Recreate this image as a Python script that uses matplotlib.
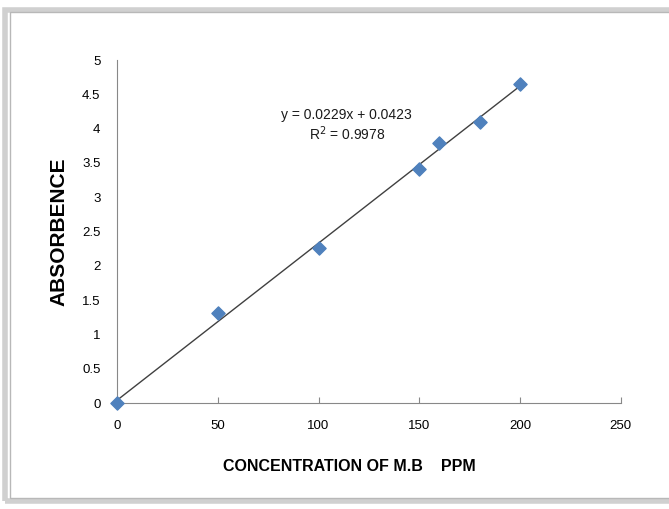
import numpy as np
import matplotlib.pyplot as plt
from matplotlib.patches import Rectangle

conc = [0, 50, 100, 150, 160, 180, 200]
absorb = [0.0, 1.31, 2.26, 3.41, 3.79, 4.10, 4.65]
slope = 0.0229
intercept = 0.0423

plt.rcParams['font.family'] = ['Liberation Sans', 'DejaVu Sans']

fig = plt.figure(figsize=(6.69, 5.09), dpi=100)

# chart frame with a soft shadow
fig.patches.append(Rectangle((0.008, 0.015), 1.0, 0.965, transform=fig.transFigure,
                             facecolor='none', edgecolor='#d0d0d0', linewidth=4, zorder=-2))
fig.patches.append(Rectangle((0.015, 0.022), 1.0, 0.955, transform=fig.transFigure,
                             facecolor='white', edgecolor='#b8b8b8', linewidth=1, zorder=-1))

ax = fig.add_axes([0.175, 0.208, 0.753, 0.674])
ax.set_facecolor('none')

xs = np.array([0, 200])
ax.plot(xs, slope * xs + intercept, color='#404040', linewidth=1.0, zorder=2)
ax.scatter(conc, absorb, marker='D', s=45, color='#4f81bd', zorder=3, clip_on=False)

# trendline label
ax.text(114, 4.2, 'y = 0.0229x + 0.0423', ha='center', va='center',
        fontsize=10, color='#1a1a1a')
ax.text(114, 3.92, 'R$^2$ = 0.9978', ha='center', va='center',
        fontsize=10, color='#1a1a1a')

ax.set_xlim(0, 250)
ax.set_ylim(0, 5)
ax.set_xticks([0, 50, 100, 150, 200, 250])
ax.set_yticks(np.arange(0, 5.01, 0.5))
ax.set_yticklabels(['0', '0.5', '1', '1.5', '2', '2.5', '3', '3.5', '4', '4.5', '5'])

for s in ['top', 'right']:
    ax.spines[s].set_visible(False)
ax.spines['left'].set_color('#888888')
ax.spines['bottom'].set_color('#888888')
ax.tick_params(axis='x', direction='in', length=4, color='#888888', labelsize=9.5, pad=12)
ax.tick_params(axis='y', length=0, labelsize=9.5, pad=12)

ax.set_xlabel('CONCENTRATION OF M.B    PPM', fontsize=11.5, fontweight='bold',
              va='center')
ax.xaxis.set_label_coords(0.462, -0.184)
ax.set_ylabel('ABSORBENCE', fontsize=15, fontweight='bold', labelpad=10)

fig.savefig('out.png', dpi=100)
